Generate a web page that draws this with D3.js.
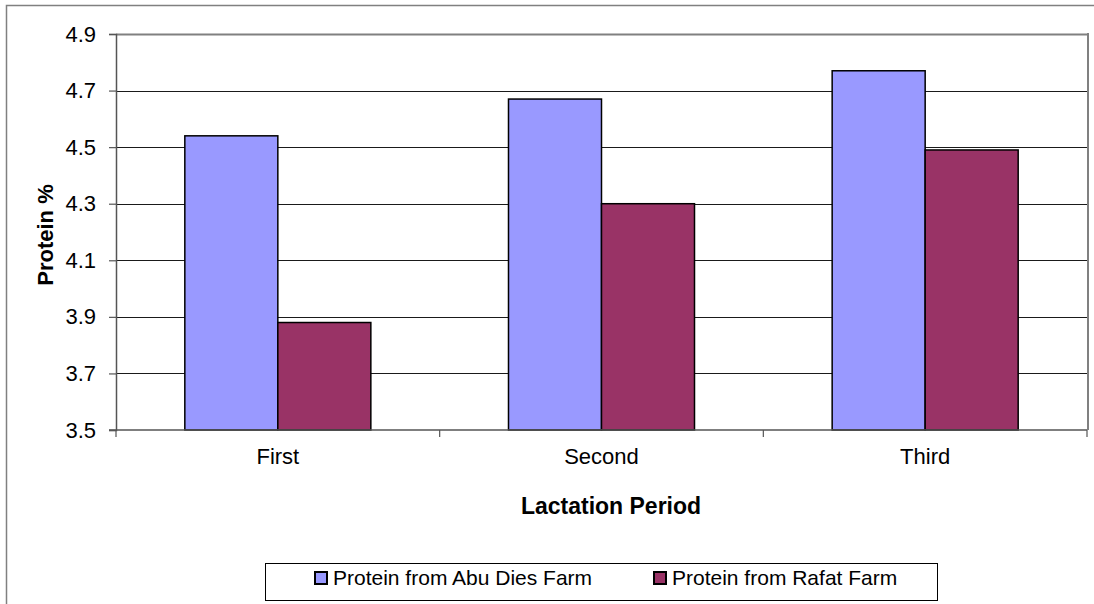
<!DOCTYPE html>
<html><head><meta charset="utf-8">
<script src="https://cdn.jsdelivr.net/npm/d3@7"></script>
<style>body{margin:0;background:#fff;font-family:"Liberation Sans",Arial,sans-serif;}</style>
</head><body>
<svg id="c" width="1094" height="604"></svg>
<script>
const categories = ["First", "Second", "Third"];
const seriesNames = ["Protein from Abu Dies Farm", "Protein from Rafat Farm"];
const abuDies = [4.54, 4.67, 4.77];
const rafat = [3.88, 4.30, 4.49];
const yTicks = [3.5, 3.7, 3.9, 4.1, 4.3, 4.5, 4.7, 4.9];
const colors = ["#9999FF", "#993366"];

const FONT = "Liberation Sans, Arial, sans-serif";
const svg = d3.select("#c");
const L = 116, R = 1087, T = 34, B = 430;
// outer frame
svg.append("path").attr("d", "M6.5,604 V5.5 H1094").attr("fill", "none").attr("stroke", "#808080").attr("stroke-width", 1.5);

const x = d3.scaleBand().domain(categories).range([L, R]).paddingInner(0).paddingOuter(0);
const y = d3.scaleLinear().domain([3.5, 4.9]).range([B, T]);
const inner = d3.scaleBand().domain([0, 1]).range([0, x.bandwidth()]).paddingOuter(0.74).paddingInner(0);

// gridlines
svg.append("g").selectAll("line").data(yTicks.slice(1)).join("line")
  .attr("x1", L).attr("x2", R).attr("y1", d => Math.round(y(d)) + 0.5).attr("y2", d => Math.round(y(d)) + 0.5)
  .attr("stroke", d => d === 4.9 ? "#808080" : "#1a1a1a").attr("stroke-width", d => d === 4.9 ? 2 : 1);
// right border
svg.append("line").attr("x1", R + 1).attr("x2", R + 1).attr("y1", T - 1).attr("y2", B).attr("stroke", "#808080").attr("stroke-width", 2);

const series = [abuDies, rafat];
series.forEach((vals, si) => {
  svg.append("g").selectAll("rect").data(vals).join("rect")
    .attr("x", (d, i) => x(categories[i]) + inner(si))
    .attr("y", d => y(d))
    .attr("width", inner.bandwidth())
    .attr("height", d => B - y(d))
    .attr("fill", colors[si]).attr("stroke", "#000").attr("stroke-width", 1.5);
});

// y axis
const ya = svg.append("g").attr("transform", `translate(${L},0)`)
  .call(d3.axisLeft(y).tickValues(yTicks).tickFormat(d3.format(".1f")).tickSize(7).tickPadding(13));
ya.select(".domain").attr("stroke", "#555").attr("stroke-width", 1.5);
ya.selectAll(".tick line").attr("stroke", "#555").attr("stroke-width", 1.2);
ya.selectAll("text").attr("font-size", 22).attr("font-family", FONT).attr("fill", "#000");

// x axis
const xa = svg.append("g").attr("transform", `translate(0,${B})`)
  .call(d3.axisBottom(x).tickSize(0).tickPadding(18));
xa.select(".domain").remove();
xa.append("line").attr("x1", L - 7).attr("x2", R).attr("y1", 0).attr("y2", 0).attr("stroke", "#555").attr("stroke-width", 1.5);
const edges = [L, ...categories.map(c => x(c) + x.bandwidth())];
xa.selectAll(".edge").data(edges).join("line").attr("class", "edge")
  .attr("x1", d => d).attr("x2", d => d).attr("y1", 0).attr("y2", 7).attr("stroke", "#555").attr("stroke-width", 1.2);
xa.selectAll(".tick text").attr("font-size", 22).attr("font-family", FONT).attr("fill", "#000");

// titles
svg.append("text").attr("x", 611).attr("y", 514).attr("text-anchor", "middle").attr("font-family", FONT)
  .attr("font-size", 23).attr("font-weight", "bold").text("Lactation Period");
svg.append("text").attr("transform", `translate(53,235) rotate(-90)`).attr("text-anchor", "middle").attr("font-family", FONT)
  .attr("font-size", 22).attr("font-weight", "bold").text("Protein %");

// legend
const lg = svg.append("g");
lg.append("rect").attr("x", 265.5).attr("y", 563.5).attr("width", 672).attr("height", 37).attr("fill", "#fff").attr("stroke", "#000").attr("stroke-width", 1);
const lx = [315, 654];
seriesNames.forEach((n, i) => {
  lg.append("rect").attr("x", lx[i]).attr("y", 572).attr("width", 12).attr("height", 12)
    .attr("fill", colors[i]).attr("stroke", "#000").attr("stroke-width", 2);
  lg.append("text").attr("x", lx[i] + 18).attr("y", 585).attr("font-family", FONT).attr("font-size", 21).text(n);
});
</script>
</body></html>
